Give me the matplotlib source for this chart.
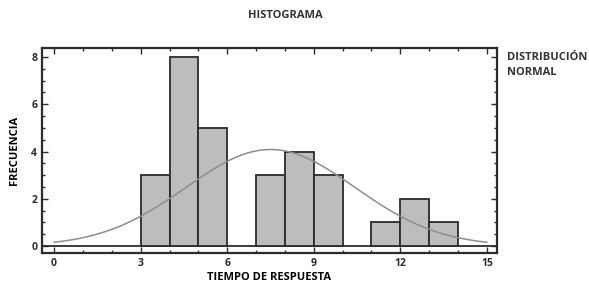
import matplotlib.pyplot as plt
import numpy as np
from matplotlib.ticker import MultipleLocator

# histogram counts, bins of width 1
bin_left = [3, 4, 5, 6, 7, 8, 9, 10, 11, 12, 13]
counts = [3, 8, 5, 0, 3, 4, 3, 0, 1, 2, 1]

# fitted normal curve parameters
mu = 7.5
sigma = 2.93
n_obs = sum(counts)

x_ticks = [0, 3, 6, 9, 12, 15]
y_ticks = [0, 2, 4, 6, 8]

plt.rcParams["font.family"] = ["Open Sans", "DejaVu Sans"]
plt.rcParams["font.weight"] = "bold"

fig = plt.figure(figsize=(5.89, 2.83), dpi=100)
ax = fig.add_axes([0.0713, 0.106, 0.7725, 0.724])

nz = [(l, c) for l, c in zip(bin_left, counts) if c > 0]
ax.bar([l for l, _ in nz], [c for _, c in nz], width=1, align="edge",
       color="#bdbdbd", edgecolor="#2b2b2b", linewidth=1.3, zorder=2)

xs = np.linspace(0, 15, 300)
ys = n_obs / (sigma * np.sqrt(2 * np.pi)) * np.exp(-(xs - mu) ** 2 / (2 * sigma ** 2))
ax.plot(xs, ys, color="#8e8e8e", lw=1.1, zorder=3)

ax.axhline(0, color="#2b2b2b", lw=1.3, zorder=1)

ax.set_xlim(-0.42, 15.35)
ax.set_ylim(-0.3, 8.38)
ax.set_xticks(x_ticks)
ax.set_yticks(y_ticks)
ax.xaxis.set_minor_locator(MultipleLocator(1))
ax.yaxis.set_minor_locator(MultipleLocator(0.5))
ax.tick_params(which="both", direction="in", top=True, right=True,
               labelsize=7.5, colors="#2b2b2b", width=1)
ax.tick_params(which="major", length=4)
ax.tick_params(which="minor", length=2)
for lab in ax.get_xticklabels() + ax.get_yticklabels():
    lab.set_fontweight("bold")
for s in ax.spines.values():
    s.set_linewidth(1.6)
    s.set_color("#2b2b2b")

ax.set_xlabel("TIEMPO DE RESPUESTA", fontsize=8, fontweight="bold", labelpad=2)
ax.set_ylabel("FRECUENCIA", fontsize=8, fontweight="bold", labelpad=8)

fig.text(0.484, 0.945, "HISTOGRAMA", ha="center", va="center",
         fontsize=8, fontweight="bold", color="#333333")
fig.text(0.861, 0.77, "DISTRIBUCIÓN\nNORMAL", ha="left", va="center",
         fontsize=8, fontweight="bold", color="#333333", linespacing=1.5)

fig.savefig("out.png", dpi=100)
